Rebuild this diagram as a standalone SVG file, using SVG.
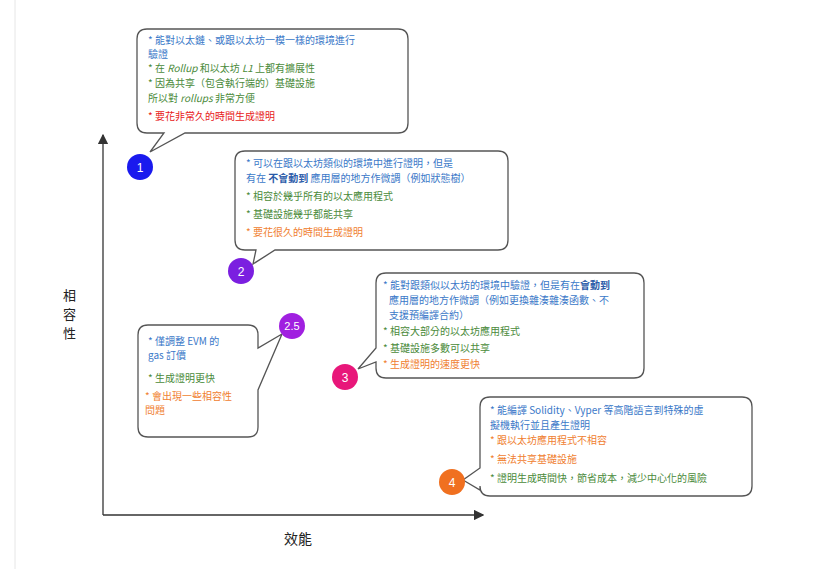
<svg xmlns="http://www.w3.org/2000/svg" width="813" height="569" viewBox="0 0 813 569">
<style>
text{font-family:"Noto Sans CJK TC","Noto Sans CJK SC",sans-serif;font-size:10px}
.b{fill:#3a78c8}.g{fill:#4a8a3a}.r{fill:#e82020}.o{fill:#f08030}
.bub{fill:#fff;stroke:#555;stroke-width:1.3}
.num{fill:#fff;font-family:"Liberation Sans",sans-serif;font-size:12px;text-anchor:middle}
.ax{stroke:#333;stroke-width:1.3;fill:none}
.lab{font-size:13px;fill:#222}
</style>
<defs><marker id="ar" markerWidth="8" markerHeight="8" refX="7" refY="4" orient="auto"><path d="M0,0 L8,4 L0,8 Z" fill="#333"/></marker></defs>
<rect width="813" height="569" fill="#fff"/>
<line x1="15" y1="0" x2="15" y2="569" stroke="#e6e6e6"/>
<g id="connectors">
<path class="ax" d="M103,515 V135" marker-end="url(#ar)"/>
<path class="ax" d="M103,515 H483" marker-end="url(#ar)"/>
</g>
<text x="63" y="300" class="lab">相</text>
<text x="63" y="319" class="lab">容</text>
<text x="63" y="338" class="lab">性</text>
<text x="284" y="544" class="lab" style="font-size:14px">效能</text>
<g id="n1">
<path class="bub" d="M147,29 H398 Q408,29 408,39 V123 Q408,133 398,133 H185 L150,152 L164,133 H147 Q137,133 137,123 V39 Q137,29 147,29 Z"/>
<text x="148" y="44" class="b">* 能對以太鏈、或跟以太坊一模一樣的環境進行</text>
<text x="148" y="58" class="b">驗證</text>
<text x="148" y="72" class="g">* 在 <tspan font-style="italic">Rollup</tspan> 和以太坊 <tspan font-style="italic">L1</tspan> 上都有擴展性</text>
<text x="148" y="87" class="g">* 因為共享（包含執行端的）基礎設施</text>
<text x="148" y="102" class="g">所以對 <tspan font-style="italic">rollups</tspan> 非常方便</text>
<text x="148" y="120" class="r">* 要花非常久的時間生成證明</text>
<circle cx="140" cy="167" r="13" fill="#1a1aee"/><text x="140" y="172" class="num">1</text>
</g>
<g id="n2">
<path class="bub" d="M245,151 H498 Q508,151 508,161 V240 Q508,250 498,250 H275 L253,264 L256,250 H245 Q235,250 235,240 V161 Q235,151 245,151 Z"/>
<text x="246" y="167" class="b">* 可以在跟以太坊類似的環境中進行證明，但是</text>
<text x="246" y="182" class="b">有在 <tspan font-weight="bold" fill="#2a5aa8">不會動到</tspan> 應用層的地方作微調（例如狀態樹）</text>
<text x="246" y="200" class="g">* 相容於幾乎所有的以太應用程式</text>
<text x="246" y="218" class="g">* 基礎設施幾乎都能共享</text>
<text x="246" y="236" class="o">* 要花很久的時間生成證明</text>
<circle cx="241" cy="271" r="13" fill="#7b1fe0"/><text x="241" y="276" class="num">2</text>
</g>
<g id="n3">
<path class="bub" d="M386,273 H634 Q644,273 644,283 V368 Q644,378 634,378 H386 Q376,378 376,368 V362 L358,369 L376,348 V283 Q376,273 386,273 Z"/>
<text x="383" y="289" class="b">* 能對跟類似以太坊的環境中驗證，但是有在<tspan font-weight="bold" fill="#2a5aa8">會動到</tspan></text>
<text x="389" y="304" class="b">應用層的地方作微調（例如更換雜湊雜湊函數、不</text>
<text x="389" y="319" class="b">支援預編譯合約）</text>
<text x="383" y="335" class="g">* 相容大部分的以太坊應用程式</text>
<text x="383" y="352" class="g">* 基礎設施多數可以共享</text>
<text x="383" y="368" class="o">* 生成證明的速度更快</text>
<circle cx="345" cy="377" r="13" fill="#e8177a"/><text x="345" y="382" class="num">3</text>
</g>
<g id="n25">
<path class="bub" d="M148,325 H248 Q258,325 258,335 V348 L282,334 L258,390 V427 Q258,437 248,437 H148 Q138,437 138,427 V335 Q138,325 148,325 Z"/>
<text x="148" y="345" class="b">* 僅調整 EVM 的</text>
<text x="148" y="359" class="b">gas 訂價</text>
<text x="148" y="382" class="g">* 生成證明更快</text>
<text x="145" y="400" class="o">* 會出現一些相容性</text>
<text x="145" y="414" class="o">問題</text>
<circle cx="292" cy="326" r="13" fill="#a020e0"/><text x="292" y="330" class="num" style="font-size:11px">2.5</text>
</g>
<g id="n4">
<path class="bub" d="M490,397 H742 Q752,397 752,407 V486 Q752,496 742,496 H490 Q480,496 480,486 V490 L463,480 L480,468 V407 Q480,397 490,397 Z"/>
<text x="490" y="414" class="b">* 能編譯 Solidity、Vyper 等高階語言到特殊的虛</text>
<text x="490" y="429" class="b">擬機執行並且產生證明</text>
<text x="490" y="444" class="o">* 跟以太坊應用程式不相容</text>
<text x="490" y="463" class="o">* 無法共享基礎設施</text>
<text x="490" y="482" class="g">* 證明生成時間快，節省成本，減少中心化的風險</text>
<circle cx="452" cy="482" r="13" fill="#f07020"/><text x="452" y="487" class="num">4</text>
</g>
</svg>
